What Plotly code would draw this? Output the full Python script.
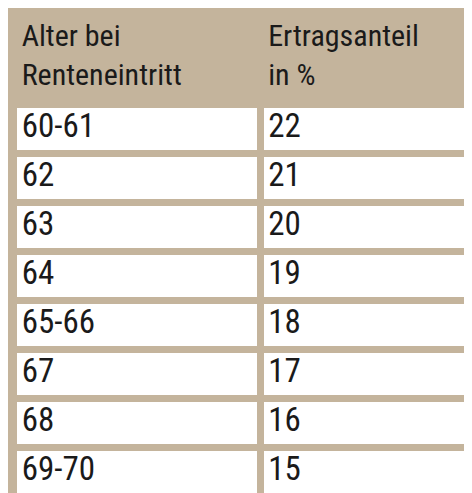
import plotly.graph_objects as go

tan = '#c4b49c'

header = ['Alter bei<br>Renteneintritt', 'Ertragsanteil<br>in %']
ages = ['60-61', '62', '63', '64', '65-66', '67', '68', '69-70']
shares = [22, 21, 20, 19, 18, 17, 16, 15]

fig = go.Figure(go.Table(
    columnwidth=[246, 212],
    header=dict(
        values=header,
        fill_color=tan,
        line=dict(color=tan, width=6),
        align='left',
        height=94,
        font=dict(family='Roboto Condensed, Liberation Sans Narrow, Roboto', size=30, color='#1a1a1a'),
    ),
    cells=dict(
        values=[ages, shares],
        fill_color='white',
        line=dict(color=tan, width=7),
        align='left',
        height=49,
        font=dict(family='Roboto Condensed, Liberation Sans Narrow, Roboto', size=33, color='#1a1a1a'),
    ),
    domain=dict(x=[0.012, 0.985], y=[0, 0.995]),
))

fig.update_layout(
    width=472, height=493,
    margin=dict(l=0, r=0, t=0, b=0),
    paper_bgcolor=tan,
)

fig.write_html("out.html")
